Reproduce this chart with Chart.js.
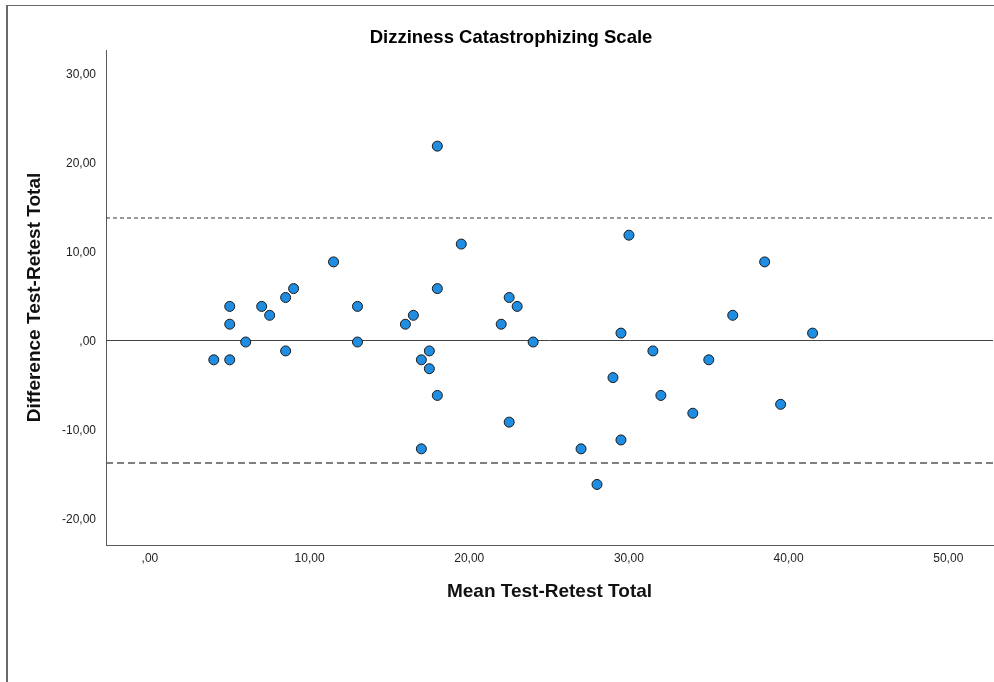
<!DOCTYPE html>
<html>
<head>
<meta charset="utf-8">
<title>Dizziness Catastrophizing Scale</title>
<script src="https://cdn.jsdelivr.net/npm/chart.js@4"></script>
<style>
    body { margin: 0; background: #fff; }
    #wrap { position: relative; width: 994px; height: 682px; overflow: hidden; }
    #frame {
        position: absolute; left: 6px; top: 5px; right: -4px; bottom: -4px;
        border-left: 2px solid #6a6a6a; border-top: 1px solid #6a6a6a;
    }
    #plot { position: absolute; left: 0; top: 0; }
</style>
</head>
<body>
<div id="wrap">
    <div id="frame"></div>
    <canvas id="plot" width="994" height="682"></canvas>
</div>
<script>
// mean of test and retest (x) and their difference (y), one per subject
const meanTotal = [4, 5, 5, 5, 6, 7, 7.5, 8.5, 9, 8.5, 11.5, 13, 13, 16, 16.5, 17, 17.5, 17.5, 18, 18, 18,
    17, 19.5, 22, 22.5, 23, 24, 22.5, 27, 28, 29, 29.5, 29.5, 30, 31.5, 32, 34, 35, 36.5, 38.5, 39.5, 41.5];
const diffTotal = [-2, 4, 2, -2, 0, 4, 3, 5, 6, -1, 9, 4, 0, 2, 3, -2, -1, -3, 22, 6, -6,
    -12, 11, 2, 5, 4, 0, -9, -12, -16, -4, 1, -11, 12, -1, -6, -8, -2, 3, 9, -7, 1];

// mean difference and limits of agreement
const meanDiff = 0.17;
const upperLimit = 13.93;
const lowerLimit = -13.6;

const xMin = -2.75, xMax = 52.8;
const yMin = -22.8, yMax = 32.8;

const fmt = v => {
    const s = Math.abs(v).toFixed(2).replace('.', ',');
    const t = s.startsWith('0,') ? s.slice(1) : s;
    return (v < 0 ? '-' : '') + t;
};

const hLine = y => [{ x: xMin, y: y }, { x: xMax, y: y }];

const points = meanTotal.map((m, i) => ({ x: m, y: diffTotal[i] }));

const font = 'Arial, "Liberation Sans", sans-serif';

new Chart(document.getElementById('plot').getContext('2d'), {
    type: 'scatter',
    data: {
        datasets: [
            {
                label: 'Subjects',
                data: points,
                backgroundColor: '#1e8de2',
                borderColor: '#1a1a1a',
                borderWidth: 1,
                pointRadius: 5,
                order: 0
            },
            {
                label: 'Mean',
                data: hLine(meanDiff),
                showLine: true,
                pointRadius: 0,
                borderColor: '#444',
                borderWidth: 1,
                order: 1
            },
            {
                label: 'Upper limit',
                data: hLine(upperLimit),
                showLine: true,
                pointRadius: 0,
                borderColor: '#333',
                borderWidth: 1,
                borderDash: [4, 3],
                order: 1
            },
            {
                label: 'Lower limit',
                data: hLine(lowerLimit),
                showLine: true,
                pointRadius: 0,
                borderColor: '#555',
                borderWidth: 1.5,
                borderDash: [7, 4],
                order: 1
            }
        ]
    },
    options: {
        responsive: false,
        animation: false,
        devicePixelRatio: 1,
        layout: { autoPadding: false, padding: { left: 29, right: 1, top: 6, bottom: 0 } },
        plugins: {
            legend: { display: false },
            tooltip: { enabled: false },
            title: {
                display: true,
                text: 'Dizziness Catastrophizing Scale',
                color: '#000',
                font: { family: font, size: 18.5, weight: 'bold' },
                padding: { top: 20.9, bottom: 0.9 }
            }
        },
        scales: {
            x: {
                type: 'linear',
                min: xMin,
                max: xMax,
                grid: { display: false, drawTicks: false },
                border: { display: true, color: '#5a5a5a', width: 1 },
                ticks: {
                    stepSize: 10,
                    includeBounds: false,
                    padding: 6,
                    color: '#222',
                    font: { family: font, size: 12 },
                    callback: v => fmt(v)
                },
                title: {
                    display: true,
                    text: 'Mean Test-Retest Total',
                    color: '#111',
                    font: { family: font, size: 19, weight: 'bold' },
                    padding: { top: 0, bottom: 78.6 }
                },
                afterFit: s => {
                    s.height = 137;
                    s.paddingLeft = 0;
                    s.paddingRight = 0;
                }
            },
            y: {
                type: 'linear',
                min: yMin,
                max: yMax,
                grid: { display: false, drawTicks: false },
                border: { display: true, color: '#5a5a5a', width: 1 },
                ticks: {
                    stepSize: 10,
                    includeBounds: false,
                    padding: 10,
                    color: '#222',
                    font: { family: font, size: 12 },
                    callback: v => fmt(v)
                },
                title: {
                    display: true,
                    text: 'Difference Test-Retest Total',
                    color: '#111',
                    font: { family: font, size: 19, weight: 'bold' },
                    padding: { top: -5.4, bottom: 0 }
                },
                afterFit: s => {
                    s.width = 77;
                    s.paddingTop = 0;
                    s.paddingBottom = 0;
                }
            }
        }
    }
});
</script>
</body>
</html>
